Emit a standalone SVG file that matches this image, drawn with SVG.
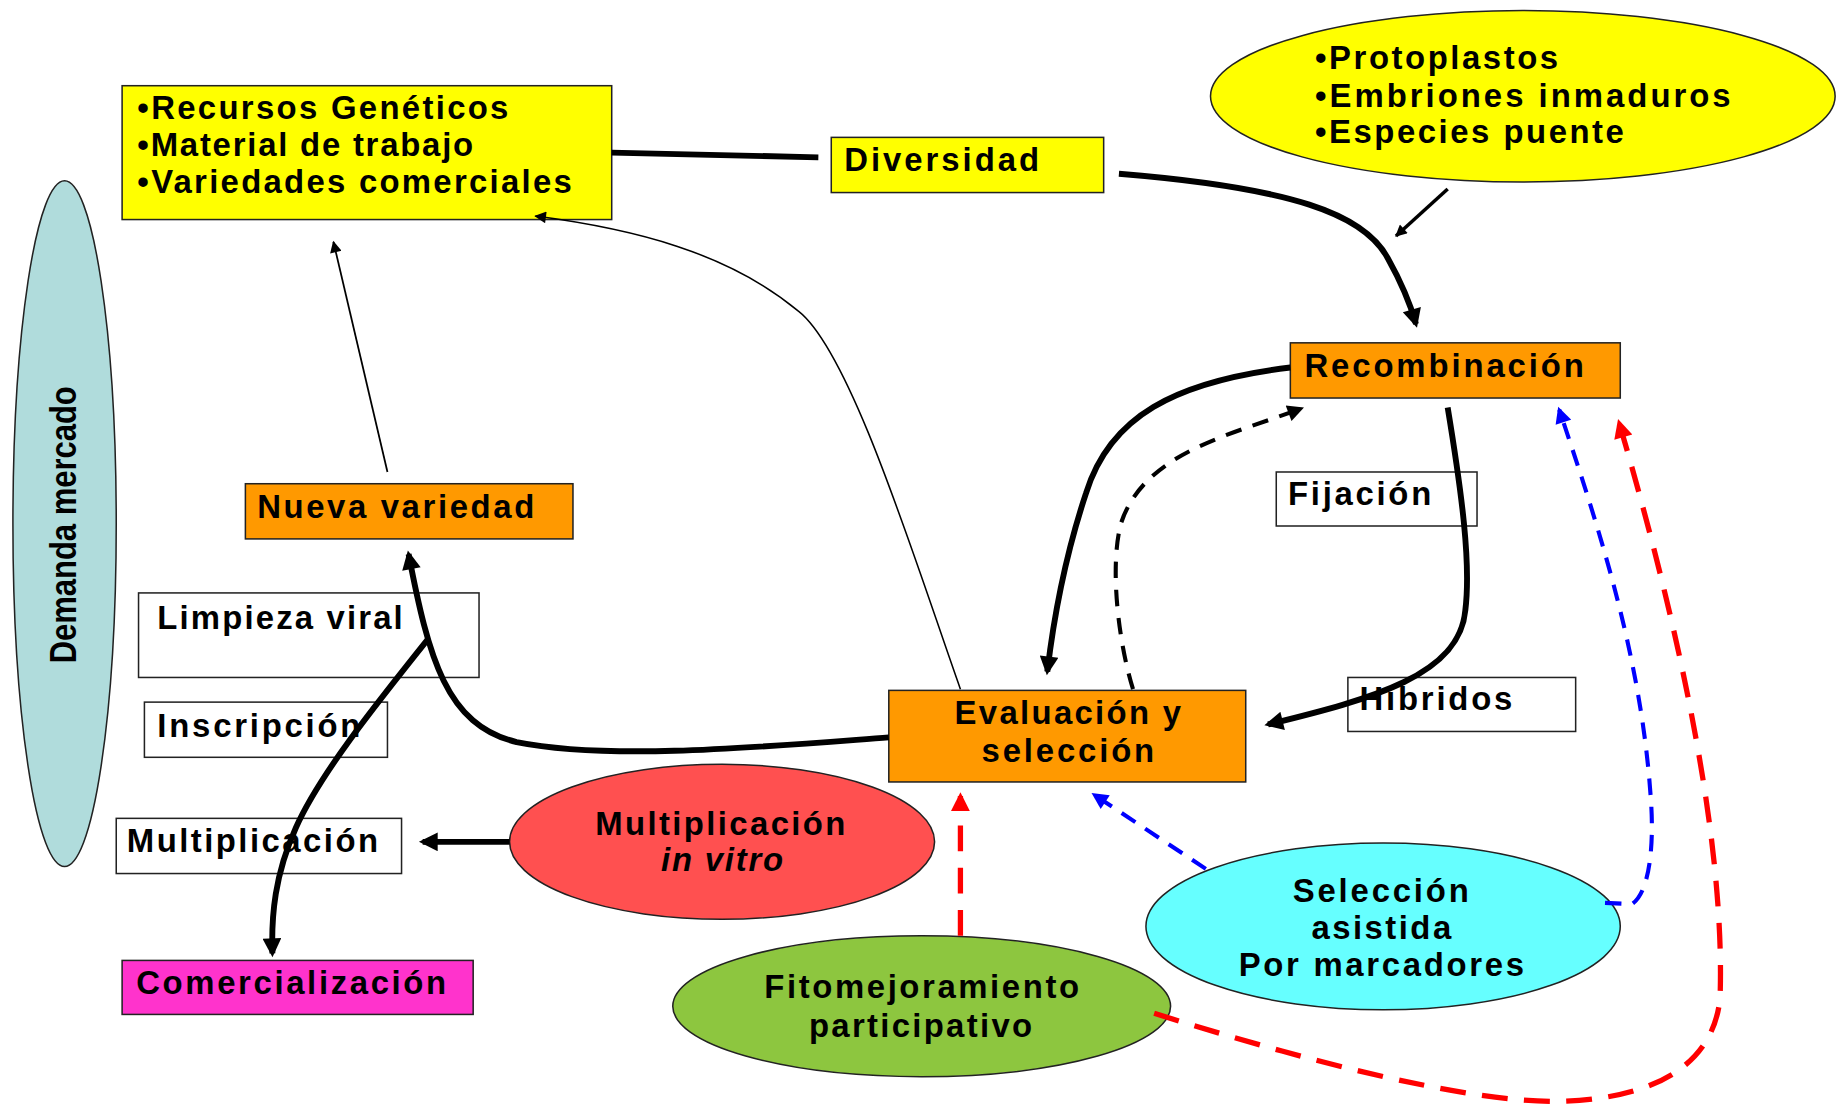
<svg xmlns="http://www.w3.org/2000/svg" width="1841" height="1106" viewBox="0 0 1841 1106">
<style>
.t{font-family:"Liberation Sans",Arial,sans-serif;font-weight:bold;font-size:28px;fill:#000}
.box{stroke:#222;stroke-width:1.3}
.thick{fill:none;stroke:#000;stroke-width:5}
.thin{fill:none;stroke:#000;stroke-width:1.3}
.dk{fill:none;stroke:#000;stroke-width:3.5;stroke-dasharray:14 10}
.db{fill:none;stroke:#0000FF;stroke-width:3.5;stroke-dasharray:14 10}
.dr{fill:none;stroke:#FF0000;stroke-width:4.5;stroke-dasharray:22 14}
</style>
<defs>
<marker id="aK" markerUnits="userSpaceOnUse" viewBox="0 0 10 10" refX="8" refY="5" markerWidth="20" markerHeight="16" orient="auto"><path d="M0,0 L10,5 L0,10 z" fill="#000"/></marker>
<marker id="aT" markerUnits="userSpaceOnUse" viewBox="0 0 10 10" refX="9" refY="5" markerWidth="13" markerHeight="10" orient="auto"><path d="M0,0 L10,5 L0,10 z" fill="#000"/></marker>
<marker id="aD" markerUnits="userSpaceOnUse" viewBox="0 0 10 10" refX="8" refY="5" markerWidth="16" markerHeight="14" orient="auto"><path d="M0,0 L10,5 L0,10 z" fill="#000"/></marker>
<marker id="aB" markerUnits="userSpaceOnUse" viewBox="0 0 10 10" refX="8" refY="5" markerWidth="16" markerHeight="14" orient="auto"><path d="M0,0 L10,5 L0,10 z" fill="#0000FF"/></marker>
<marker id="aR" markerUnits="userSpaceOnUse" viewBox="0 0 10 10" refX="8" refY="5" markerWidth="18" markerHeight="16" orient="auto"><path d="M0,0 L10,5 L0,10 z" fill="#FF0000"/></marker>
</defs>
<rect width="1841" height="1106" fill="#fff"/>
<g transform="scale(1.17411)">
<g id="demanda">
<ellipse cx="55" cy="446" rx="44" ry="292" fill="#B0DCDC" stroke="#222" stroke-width="1.3"/>
<text class="t" style="font-size:31px" transform="translate(65,565) rotate(-90)" textLength="236" lengthAdjust="spacingAndGlyphs">Demanda mercado</text>
</g>
<g id="recursos">
<rect class="box" x="104" y="73" width="417" height="114" fill="#FFFF00"/>
<text class="t" x="117" y="101" textLength="316" lengthAdjust="spacing">•Recursos Genéticos</text>
<text class="t" x="117" y="133" textLength="286" lengthAdjust="spacing">•Material de trabajo</text>
<text class="t" x="117" y="164" textLength="370" lengthAdjust="spacing">•Variedades comerciales</text>
</g>
<g id="diversidad">
<rect class="box" x="708" y="117" width="232" height="47" fill="#FFFF00"/>
<text class="t" x="719" y="146" textLength="166" lengthAdjust="spacing">Diversidad</text>
</g>
<g id="tecnicas">
<ellipse cx="1297" cy="82" rx="266" ry="73" fill="#FFFF00" stroke="#222" stroke-width="1.3"/>
<text class="t" x="1120" y="59" textLength="207" lengthAdjust="spacing">•Protoplastos</text>
<text class="t" x="1120" y="91" textLength="354" lengthAdjust="spacing">•Embriones  inmaduros</text>
<text class="t" x="1120" y="122" textLength="263" lengthAdjust="spacing">•Especies puente</text>
</g>
<g id="recombinacion">
<rect class="box" x="1099" y="292" width="281" height="47" fill="#FF9900"/>
<text class="t" x="1111" y="321" textLength="238" lengthAdjust="spacing">Recombinación</text>
</g>
<g id="fijacion">
<rect class="box" x="1087" y="402" width="171" height="46" fill="#fff"/>
<text class="t" x="1097" y="430" textLength="122" lengthAdjust="spacing">Fijación</text>
</g>
<g id="hibridos">
<rect class="box" x="1148" y="577" width="194" height="46" fill="#fff"/>
<text class="t" x="1158" y="605" textLength="130" lengthAdjust="spacing">Híbridos</text>
</g>
<g id="evaluacion">
<rect class="box" x="757" y="588" width="304" height="78" fill="#FF9900"/>
<text class="t" x="813" y="617" textLength="193" lengthAdjust="spacing">Evaluación y</text>
<text class="t" x="836" y="649" textLength="147" lengthAdjust="spacing">selección</text>
</g>
<g id="nueva">
<rect class="box" x="209" y="412" width="279" height="47" fill="#FF9900"/>
<text class="t" x="219" y="441" textLength="236" lengthAdjust="spacing">Nueva variedad</text>
</g>
<g id="limpieza">
<rect class="box" x="118" y="505" width="290" height="72" fill="#fff"/>
<text class="t" x="134" y="536" textLength="209" lengthAdjust="spacing">Limpieza viral</text>
</g>
<g id="inscripcion">
<rect class="box" x="123" y="598" width="207" height="47" fill="#fff"/>
<text class="t" x="134" y="628" textLength="173" lengthAdjust="spacing">Inscripción</text>
</g>
<g id="multiplicacion">
<rect class="box" x="99" y="697" width="243" height="47" fill="#fff"/>
<text class="t" x="108" y="726" textLength="214" lengthAdjust="spacing">Multiplicación</text>
</g>
<g id="comercializacion">
<rect class="box" x="104" y="818" width="299" height="46" fill="#FF33CC"/>
<text class="t" x="116" y="847" textLength="264" lengthAdjust="spacing">Comercialización</text>
</g>
<g id="invitro">
<ellipse cx="615" cy="717" rx="181" ry="66" fill="#FF5050" stroke="#222" stroke-width="1.3"/>
<text class="t" x="507" y="711" textLength="213" lengthAdjust="spacing">Multiplicación</text>
<text class="t" x="563" y="742" textLength="104" lengthAdjust="spacing" font-style="italic">in vitro</text>
</g>
<g id="fitomejoramiento">
<ellipse cx="785" cy="857" rx="212" ry="60" fill="#8DC63F" stroke="#222" stroke-width="1.3"/>
<text class="t" x="651" y="850" textLength="268" lengthAdjust="spacing">Fitomejoramiento</text>
<text class="t" x="689" y="883" textLength="190" lengthAdjust="spacing">participativo</text>
</g>
<g id="seleccion">
<ellipse cx="1178" cy="789" rx="202" ry="71" fill="#66FFFF" stroke="#222" stroke-width="1.3"/>
<text class="t" x="1101" y="768" textLength="150" lengthAdjust="spacing">Selección</text>
<text class="t" x="1117" y="800" textLength="119" lengthAdjust="spacing">asistida</text>
<text class="t" x="1055" y="831" textLength="243" lengthAdjust="spacing">Por marcadores</text>
</g>
<g id="connectors">
<path class="thick" d="M521,130 L697,134"/>
<path class="thick" d="M953,148 C1100,160 1162,182 1182,220 C1196,245 1202,262 1206,276" marker-end="url(#aK)"/>
<path fill="none" stroke="#000" stroke-width="3" d="M1233,161 L1189,201" marker-end="url(#aT)"/>
<path class="thick" d="M1099,313 C1000,325 945,355 925,420 C905,480 897,530 892,572" marker-end="url(#aK)"/>
<path class="dk" d="M965,587 C952,545 945,480 955,445 C975,385 1050,370 1108,348" marker-end="url(#aD)"/>
<path class="thick" d="M1233,347 C1245,420 1253,480 1248,520 C1243,575 1170,595 1080,617" marker-end="url(#aK)"/>
<path class="thick" d="M757,628 C650,636 520,648 440,632 C380,618 365,560 348,472" marker-end="url(#aK)"/>
<path class="thin" d="M818,587 C780,480 725,300 680,265 C620,215 540,195 456,184" marker-end="url(#aT)"/>
<path fill="none" stroke="#000" stroke-width="1.5" d="M330,402 L284,206" marker-end="url(#aT)"/>
<path class="thick" d="M434,717 L360,717" marker-end="url(#aK)"/>
<path class="thick" d="M364,545 C320,600 272,660 252,705 C234,745 231,780 232,812" marker-end="url(#aK)"/>
<path class="dr" d="M818,797 L818,678" marker-end="url(#aR)"/>
<path class="db" d="M1027,740 L932,677" marker-end="url(#aB)"/>
<path class="db" d="M1367,769 L1390,770 C1405,760 1409,720 1406,680 C1398,560 1362,450 1328,349" marker-end="url(#aB)"/>
<path class="dr" d="M983,863 C1100,900 1250,940 1330,938 C1420,935 1460,900 1465,850 C1470,700 1420,500 1379,360" marker-end="url(#aR)"/>
</g>
</g>
</svg>
